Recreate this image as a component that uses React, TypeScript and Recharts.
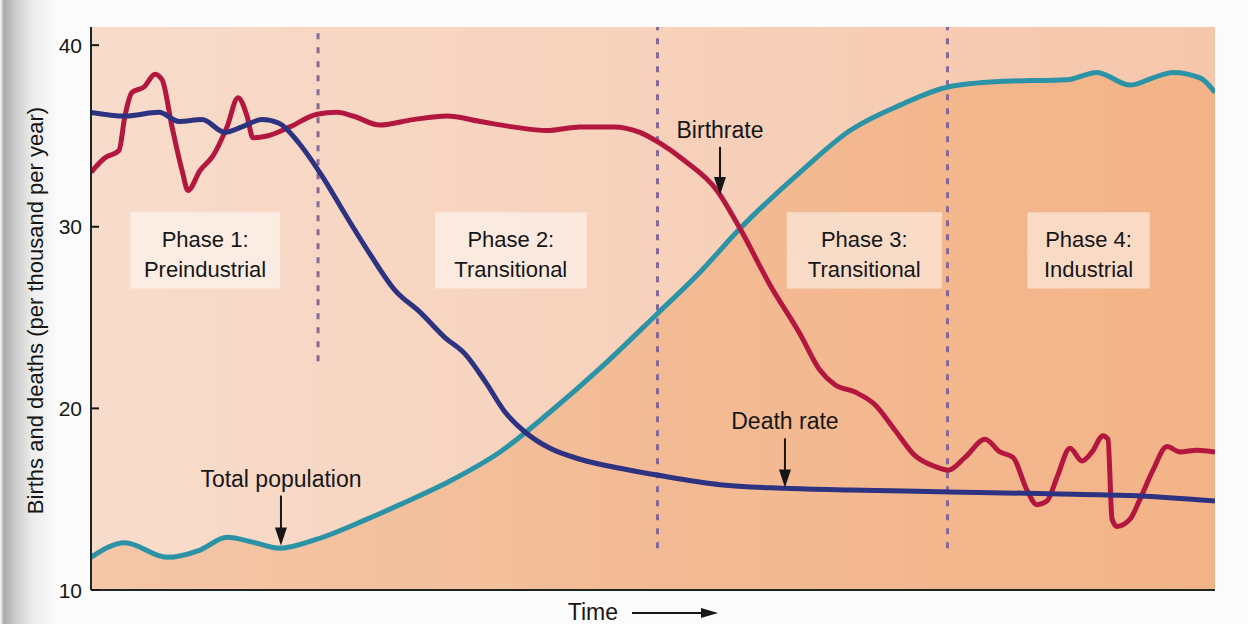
import { ComposedChart, Line, Area, XAxis, YAxis, CartesianGrid, ReferenceLine, ReferenceArea } from 'recharts'

// time runs 0..100 across the plot, rates in births/deaths per thousand per year
const birthTime = [0, 1.25, 2.49, 3.02, 3.65, 4.72, 5.69, 6.32, 7.21, 8.1, 8.63, 9.7, 10.85, 12.1, 13.08, 13.88, 14.41, 15.66, 17.7, 20.11, 21.89, 23.31, 25.71, 28.65, 31.67, 34.61, 37.54, 40.57, 43.51, 46.44, 48.84, 50.62, 52.67, 55.69, 57.74, 60.41, 63.08, 64.86, 66.19, 67.97, 69.75, 71.53, 73.31, 75.09, 76.25, 77.76, 79.54, 80.87, 82.03, 83.27, 84.16, 85.05, 85.94, 87.1, 88.17, 89.06, 90.04, 90.48, 90.84, 91.28, 92.44, 93.33, 94.48, 95.73, 96.89, 98.4, 100]
const birthRate = [33.0, 33.8, 34.2, 36.1, 37.4, 37.7, 38.4, 38.1, 35.5, 33.1, 32.0, 33.1, 33.9, 35.5, 37.1, 36.1, 34.9, 35.0, 35.5, 36.2, 36.3, 36.1, 35.6, 35.9, 36.1, 35.8, 35.5, 35.3, 35.5, 35.5, 35.2, 34.6, 33.7, 32.0, 29.9, 26.8, 24.1, 22.1, 21.3, 20.9, 20.2, 18.8, 17.4, 16.8, 16.6, 17.3, 18.3, 17.6, 17.3, 15.5, 14.7, 14.9, 16.2, 17.8, 17.1, 17.6, 18.5, 18.3, 13.9, 13.5, 13.9, 15.0, 16.6, 17.9, 17.6, 17.7, 17.6]

const deathTime = [0, 3.02, 6.05, 7.83, 9.88, 11.92, 13.43, 15.21, 16.73, 18.51, 20.55, 22.6, 24.82, 27.05, 29.27, 31.49, 33.27, 35.05, 36.83, 38.61, 40.84, 43.51, 47.06, 50.62, 55.96, 61.74, 67.53, 76.42, 85.32, 92.44, 100]
const deathRate = [36.3, 36.1, 36.3, 35.8, 35.9, 35.2, 35.5, 35.9, 35.7, 34.6, 32.8, 30.7, 28.5, 26.5, 25.3, 23.9, 23.0, 21.5, 19.8, 18.7, 17.8, 17.2, 16.7, 16.3, 15.8, 15.6, 15.5, 15.4, 15.3, 15.2, 14.9]

const popTime = [0, 3.02, 6.76, 9.7, 12.1, 14.59, 16.81, 20.11, 24.56, 27.49, 31.94, 36.39, 40.84, 45.28, 50.36, 54.18, 57.74, 63.08, 67.53, 71.98, 76.25, 80.87, 86.83, 89.5, 92.44, 94.48, 96.26, 98.67, 100]
const popLevel = [11.8, 12.6, 11.8, 12.2, 12.9, 12.6, 12.3, 12.8, 13.9, 14.7, 16.0, 17.6, 19.8, 22.2, 25.2, 27.5, 29.9, 33.0, 35.3, 36.7, 37.7, 38.0, 38.1, 38.5, 37.8, 38.2, 38.5, 38.2, 37.4]

const yTicks = [10, 20, 30, 40]

const phaseTitles = ['Phase 1:', 'Phase 2:', 'Phase 3:', 'Phase 4:']
const phaseNames = ['Preindustrial', 'Transitional', 'Transitional', 'Industrial']
const phaseBounds = [20.2, 50.4, 76.2]

// layout of the annotations (in data units)
const phaseLineBottom = [22.6, 12.3, 12.3]
const phaseBoxes = [
  { x1: 3.5, x2: 16.8 },
  { x1: 30.6, x2: 44.1 },
  { x1: 61.9, x2: 75.7 },
  { x1: 83.3, x2: 94.2 },
]
const arrows = [
  { text: 'Birthrate', x: 55.96, from: 34.4, to: 31.75 },
  { text: 'Death rate', x: 61.74, from: 18.35, to: 15.65 },
  { text: 'Total population', x: 16.9, from: 15.2, to: 12.45 },
]

const birthData = birthTime.map((t, i) => ({ t, v: birthRate[i] }))
const deathData = deathTime.map((t, i) => ({ t, v: deathRate[i] }))
const popData = popTime.map((t, i) => ({ t, v: popLevel[i] }))

const FONT = "'Liberation Sans', Arial, Helvetica, sans-serif"
const INK = '#161616'

const YTick = ({ x, y, payload }: any) => (
  <g>
    <line x1={x + 9} y1={y} x2={x + 17} y2={y} stroke={INK} strokeWidth={2} />
    <text x={x} y={y} textAnchor="end" dominantBaseline="central" fontSize={21} fontFamily={FONT} fill={INK}>
      {payload.value}
    </text>
  </g>
)

const arrowShape = (text: string) => (props: any) => {
  const { x1, y1, x2, y2 } = props
  return (
    <g>
      <text x={x1} y={y1 - 9} textAnchor="middle" fontSize={23} fontFamily={FONT} fill={INK}>{text}</text>
      <line x1={x1} y1={y1} x2={x2} y2={y2 - 14} stroke={INK} strokeWidth={2} />
      <path d={`M${x2 - 6},${y2 - 18} L${x2 + 6},${y2 - 18} L${x2},${y2} Z`} fill={INK} />
    </g>
  )
}

const phaseLabel = (i: number) => (props: any) => {
  const vb = props.viewBox
  const cx = vb.x + vb.width / 2
  return (
    <g fontFamily={FONT} fontSize={22} fill={INK} textAnchor="middle">
      <text x={cx} y={vb.y + 35}>{phaseTitles[i]}</text>
      <text x={cx} y={vb.y + 65}>{phaseNames[i]}</text>
    </g>
  )
}

const timeLabel = (props: any) => {
  const vb = props.viewBox
  const cx = vb.x + vb.width / 2
  return (
    <g>
      <text x={cx - 35} y={620} textAnchor="end" fontSize={23} fontFamily={FONT} fill={INK}>Time</text>
      <line x1={cx - 21} y1={613} x2={cx + 52} y2={613} stroke={INK} strokeWidth={2} />
      <path d={`M${cx + 48},${608} L${cx + 65},${613} L${cx + 48},${618} Z`} fill={INK} />
    </g>
  )
}

const yLabel = (props: any) => {
  const vb = props.viewBox
  const cx = 35
  const cy = vb.y + vb.height / 2 + 2
  return (
    <text x={cx} y={cy} transform={`rotate(-90 ${cx} ${cy})`} textAnchor="middle" dominantBaseline="central"
      fontSize={22} fontFamily={FONT} fill={INK}>
      Births and deaths (per thousand per year)
    </text>
  )
}

export default function App() {
  return (
    <div style={{ position: 'absolute', left: 0, top: 0, width: 1248, height: 624, background: '#fbfbfb', overflow: 'hidden' }}>
      <div style={{
        position: 'absolute', left: 0, top: 0, width: 60, height: 624,
        background: 'linear-gradient(to right, #fbfbfb 0px, #a9a9a9 4px, #c9c9c9 14px, #ececec 32px, #fbfbfb 58px)'
      }} />
      <div style={{ position: 'absolute', left: 0, top: 0 }}>
        <ComposedChart width={1248} height={624} margin={{ top: 27, right: 33, bottom: 0, left: 0 }}>
          <defs>
            <linearGradient id="plotBg" x1="0" y1="0" x2="1" y2="0">
              <stop offset="0%" stopColor="#f8dccb" />
              <stop offset="50%" stopColor="#f7d1bb" />
              <stop offset="100%" stopColor="#f6c6aa" />
            </linearGradient>
            <linearGradient id="popFill" x1="0" y1="0" x2="1" y2="0">
              <stop offset="0%" stopColor="#f4c7a8" />
              <stop offset="50%" stopColor="#f3bb95" />
              <stop offset="100%" stopColor="#f3b387" />
            </linearGradient>
          </defs>
          <CartesianGrid horizontal={false} vertical={false} fill="url(#plotBg)" fillOpacity={1} />
          <XAxis type="number" dataKey="t" domain={[0, 100]} allowDataOverflow height={34}
            tick={false} tickLine={false} axisLine={{ stroke: '#1d2626', strokeWidth: 2 }} label={timeLabel} />
          <YAxis type="number" domain={[10, 41]} allowDataOverflow ticks={yTicks} width={91}
            tickSize={0} tickMargin={9} tick={<YTick />} tickLine={false}
            axisLine={{ stroke: '#1d2626', strokeWidth: 2 }} label={yLabel} />

          <Area data={popData} dataKey="v" type="monotone" baseValue={10} fill="url(#popFill)" fillOpacity={1}
            stroke="none" isAnimationActive={false} dot={false} activeDot={false} />

          {phaseBounds.map((b, i) => (
            <ReferenceLine key={'pl' + i} segment={[{ x: b, y: phaseLineBottom[i] }, { x: b, y: 41 }]}
              stroke="#84689a" strokeWidth={3} strokeDasharray="6 8" />
          ))}

          {phaseBoxes.map((p, i) => (
            <ReferenceArea key={'pb' + i} x1={p.x1} x2={p.x2} y1={26.6} y2={30.8}
              fill="#ffffff" fillOpacity={0.5} stroke="none" label={phaseLabel(i)} />
          ))}

          <Line data={popData} dataKey="v" type="monotone" stroke="#2c93a6" strokeWidth={5}
            dot={false} activeDot={false} isAnimationActive={false} />
          <Line data={birthData} dataKey="v" type="monotone" stroke="#b3173f" strokeWidth={5}
            dot={false} activeDot={false} isAnimationActive={false} />
          <Line data={deathData} dataKey="v" type="monotone" stroke="#2d3281" strokeWidth={5}
            dot={false} activeDot={false} isAnimationActive={false} />

          {arrows.map((a, i) => (
            <ReferenceLine key={'ar' + i} segment={[{ x: a.x, y: a.from }, { x: a.x, y: a.to }]}
              shape={arrowShape(a.text)} />
          ))}
        </ComposedChart>
      </div>
    </div>
  )
}
